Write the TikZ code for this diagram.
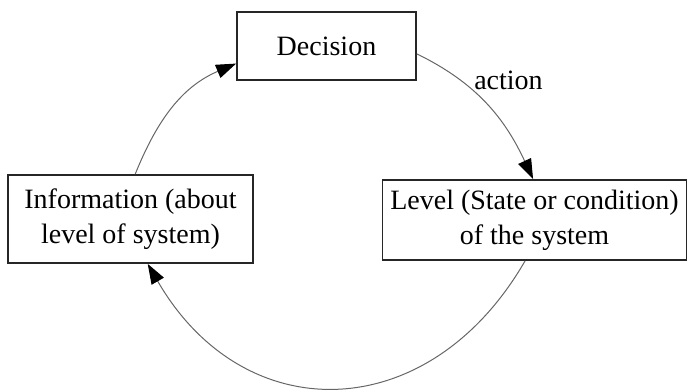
\documentclass[tikz,border=0pt]{standalone}
\usepackage{fontspec}
\setmainfont{Liberation Serif}
\usetikzlibrary{shapes,arrows.meta,positioning}

\tikzset{
  box/.style={draw=black!85, line width=0.9pt, rectangle, align=center,
    font=\fontsize{14}{17.5}\selectfont, inner sep=2pt},
  flow/.style={draw=black!60, line width=0.5pt,
    -{Triangle[length=10pt,width=7pt,color=black]}}
}

\begin{document}
\begin{tikzpicture}[x=0.5pt, y=-0.5pt]
    % Frame of the picture
    \useasboundingbox (0,0) rectangle (688,391);

    % The three boxes of the loop
    \node[box, minimum width=89.5pt, minimum height=34pt] (dec) at (326.5,46) {Decision};
    \node[box, minimum width=152pt, minimum height=40pt] (lvl) at (534.5,220)
        {Level (State or condition)\\of the system};
    \node[box, minimum width=122.5pt, minimum height=44pt] (info) at (130.5,219)
        {Information (about\\level of system)};

    % Connectors round the cycle
    \draw[flow] (dec.-5) to[out=-26, in=115]
        node[pos=0.36, anchor=west, inner sep=0pt, xshift=1.5pt, yshift=4pt,
             font=\fontsize{14}{17}\selectfont] (act) {action} (lvl.92);
    \draw[flow] (lvl.-103) to[out=-120, in=-60, looseness=1.3] (info.-69);
    \draw[flow] (info.84) to[out=68, in=-157] (dec.191);
\end{tikzpicture}
\end{document}
